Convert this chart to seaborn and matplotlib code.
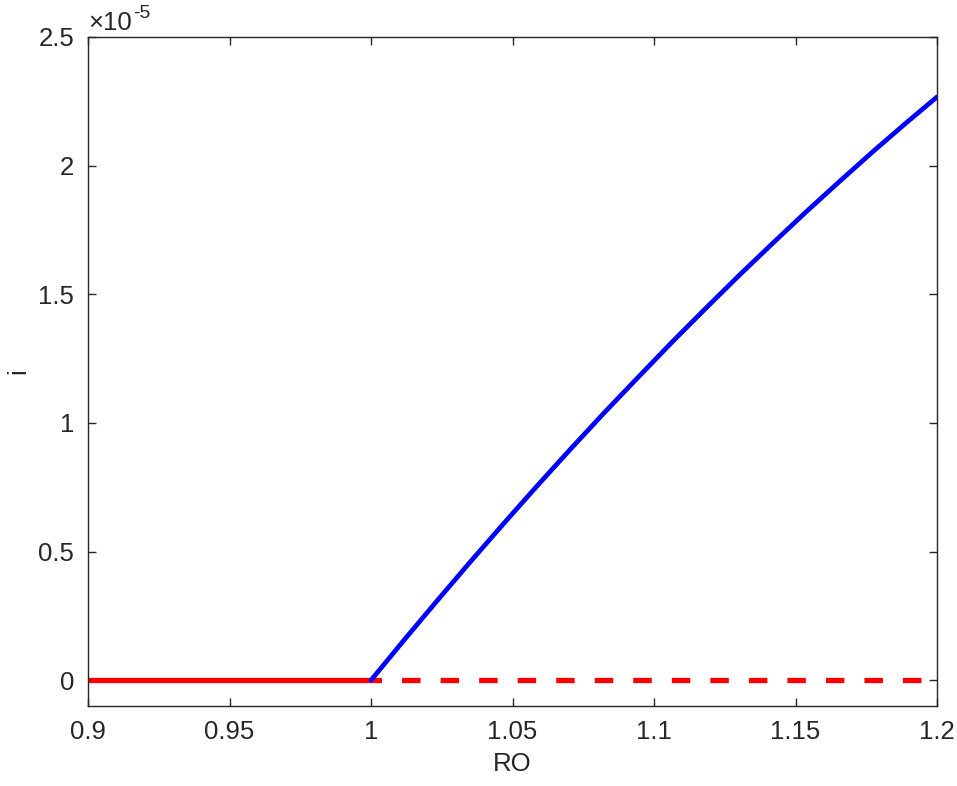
import matplotlib
matplotlib.use("Agg")
import matplotlib.pyplot as plt
import seaborn as sns
import pandas as pd

# ---- data ----
ro_stable = [0.90, 1.00]
i_stable = [0.0, 0.0]
ro_unstable = [1.00, 1.20]
i_unstable = [0.0, 0.0]
ro_branch = [1.0000, 1.0114, 1.0232, 1.0350, 1.0468, 1.0585, 1.0703, 1.0821,
             1.0939, 1.1068, 1.1186, 1.1304, 1.1422, 1.1539, 1.1657, 1.1775,
             1.1893, 1.2000]
i_branch = [0.0, 0.1525e-5, 0.307e-5, 0.459e-5, 0.608e-5, 0.753e-5, 0.896e-5, 1.036e-5,
            1.172e-5, 1.319e-5, 1.449e-5, 1.577e-5, 1.701e-5, 1.822e-5, 1.940e-5, 2.056e-5,
            2.168e-5, 2.267e-5]

x_ticks = [0.9, 0.95, 1.0, 1.05, 1.1, 1.15, 1.2]
x_ticklabels = ["0.9", "0.95", "1", "1.05", "1.1", "1.15", "1.2"]
y_ticks = [0, 0.5e-5, 1e-5, 1.5e-5, 2e-5, 2.5e-5]
y_ticklabels = ["0", "0.5", "1", "1.5", "2", "2.5"]

sns.set_style("ticks")
plt.rcParams['font.family'] = ['Liberation Sans', 'DejaVu Sans']

fig = plt.figure(figsize=(9.57, 7.86), dpi=100)
ax = fig.add_axes([88/957, 1-706/786, (937-88)/957, (706-37)/786])

axcol = "#262626"
df_s = pd.DataFrame({"RO": ro_stable, "i": i_stable})
df_u = pd.DataFrame({"RO": ro_unstable, "i": i_unstable})
df_b = pd.DataFrame({"RO": ro_branch, "i": i_branch})

sns.lineplot(data=df_s, x="RO", y="i", ax=ax, color="#ff0000", lw=3.8, sort=False)
sns.lineplot(data=df_u, x="RO", y="i", ax=ax, color="#ff0000", lw=3.8, sort=False)
ax.lines[-1].set_linestyle((1.5, (3.5, 3.8)))
ax.lines[-1].set_dash_capstyle("butt")
sns.lineplot(data=df_b, x="RO", y="i", ax=ax, color="#0000ff", lw=3.4, sort=False)

ax.set_xlim(0.9, 1.2)
ax.set_ylim(-1e-6, 2.5e-5)
ax.set_xticks(x_ticks)
ax.set_xticklabels(x_ticklabels)
ax.set_yticks(y_ticks)
ax.set_yticklabels(y_ticklabels)

for s in ax.spines.values():
    s.set_visible(True)
    s.set_color(axcol)
    s.set_linewidth(1.0)
ax.tick_params(direction="in", length=6, width=1.0, colors=axcol, labelsize=18.5,
               top=True, right=True, pad=10)
ax.set_xlabel("RO", fontsize=18.5, color=axcol, labelpad=6)
ax.set_ylabel("i", fontsize=18.5, color=axcol, labelpad=6)
t = ax.text(0.0, 1.003, "×10", transform=ax.transAxes,
            fontsize=18.5, color=axcol, ha="left", va="bottom")
ax.annotate("-5", xy=(1, 0.55), xycoords=t, xytext=(1, 0), textcoords="offset points",
            fontsize=14, color=axcol, ha="left", va="bottom")

fig.savefig("out.png", dpi=100)
